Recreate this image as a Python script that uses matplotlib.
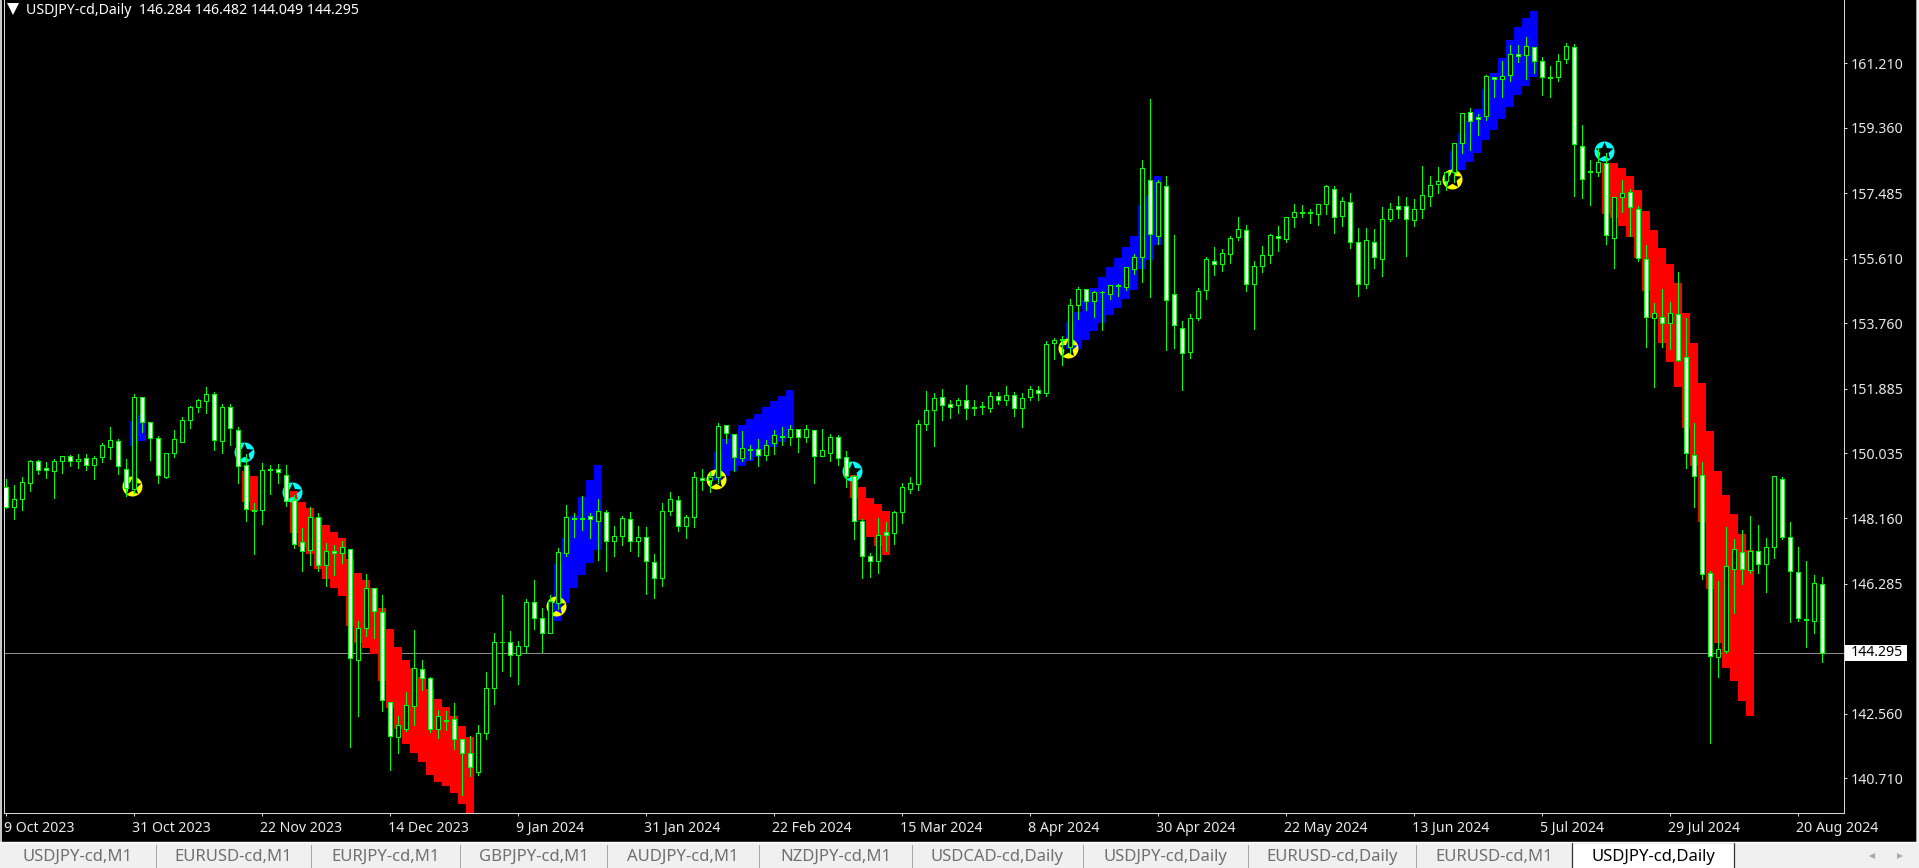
#!/usr/bin/env python3
"""USDJPY daily candles with red/blue signal bands, drawn like an MT4 window."""

import numpy as np
import matplotlib
matplotlib.use('Agg')
import matplotlib.pyplot as plt
from matplotlib.path import Path
from matplotlib.patches import Rectangle
from matplotlib.transforms import Affine2D

plt.rcParams['font.family'] = ['Noto Sans', 'DejaVu Sans']

highs = [
    149.28, 149.11, 149.35, 149.84, 149.84, 149.78, 149.86, 149.94, 149.98, 150.01,
    150.01, 149.95, 150.32, 150.78, 150.44, 149.87, 151.73, 151.63, 150.92, 150.52,
    150.05, 150.70, 151.07, 151.38, 151.58, 151.93, 151.78, 151.43, 151.43, 150.77,
    150.00, 148.59, 149.74, 149.68, 149.71, 149.68, 148.83, 147.90, 148.50, 148.33,
    147.45, 147.39, 147.50, 147.29, 145.21, 146.58, 146.18, 145.98, 142.89, 142.49,
    143.18, 144.95, 144.09, 143.61, 142.67, 142.64, 142.86, 141.83, 141.91, 142.23,
    143.75, 144.87, 145.98, 144.92, 144.64, 145.84, 146.41, 145.59, 145.96, 147.31,
    148.54, 148.31, 148.80, 148.31, 148.71, 148.39, 147.93, 148.22, 148.34, 147.93,
    147.91, 147.13, 148.59, 148.92, 148.79, 148.26, 149.48, 149.57, 149.48, 150.89,
    150.83, 150.57, 150.66, 150.28, 150.43, 150.40, 150.69, 150.77, 150.83, 150.72,
    150.83, 150.69, 150.72, 150.57, 150.54, 150.09, 149.40, 148.14, 147.16, 148.16,
    148.05, 148.37, 149.17, 149.34, 150.97, 151.81, 151.75, 151.86, 151.55, 151.61,
    151.99, 151.56, 151.49, 151.78, 151.80, 151.95, 151.78, 151.75, 151.95, 151.95,
    153.24, 153.32, 153.38, 154.44, 154.79, 154.73, 154.67, 154.67, 154.84, 154.87,
    155.36, 155.74, 158.44, 160.20, 157.85, 157.97, 156.29, 153.82, 154.02, 154.76,
    155.67, 155.93, 155.90, 156.25, 156.79, 156.56, 155.53, 155.96, 156.31, 156.54,
    156.79, 157.19, 157.14, 157.02, 157.19, 157.71, 157.68, 157.37, 157.48, 156.48,
    156.48, 156.45, 157.08, 157.20, 157.40, 157.37, 157.31, 158.26, 157.97, 158.23,
    158.11, 158.92, 159.78, 159.92, 159.75, 160.87, 160.81, 161.27, 161.73, 161.73,
    161.95, 161.67, 161.38, 161.13, 161.49, 161.78, 161.75, 159.43, 158.43, 158.77,
    158.63, 157.37, 157.85, 157.60, 157.11, 155.99, 154.33, 154.73, 154.36, 155.22,
    153.90, 150.89, 149.77, 146.64, 146.36, 147.91, 147.56, 147.82, 148.22, 147.96,
    147.59, 149.37, 149.34, 148.05, 147.33, 146.93, 146.53, 146.482,
]
lows = [
    148.45, 148.15, 148.41, 148.96, 149.43, 149.33, 148.76, 149.47, 149.65, 149.61,
    149.56, 149.30, 149.79, 149.87, 149.44, 148.79, 148.88, 150.65, 149.84, 149.19,
    149.33, 149.92, 150.34, 150.75, 151.21, 151.19, 150.13, 150.05, 150.28, 149.18,
    148.10, 147.15, 148.01, 148.87, 149.18, 148.52, 147.32, 146.66, 146.83, 146.66,
    146.23, 146.55, 146.89, 141.62, 142.51, 144.80, 144.74, 142.65, 140.95, 141.44,
    142.08, 142.24, 143.24, 142.05, 141.88, 142.09, 141.56, 140.24, 140.79, 140.81,
    141.85, 142.85, 143.80, 143.65, 143.42, 144.30, 145.00, 144.33, 144.87, 145.56,
    147.07, 147.64, 147.83, 147.61, 146.97, 146.65, 147.08, 147.40, 147.23, 147.08,
    145.99, 145.88, 146.22, 148.26, 147.80, 147.60, 147.91, 148.99, 148.92, 149.17,
    150.33, 149.51, 149.80, 149.86, 149.66, 149.83, 150.01, 150.27, 150.26, 150.07,
    150.35, 149.17, 149.96, 149.81, 149.69, 149.06, 147.56, 146.45, 146.48, 146.60,
    147.23, 147.43, 148.03, 148.89, 148.99, 150.70, 150.24, 150.98, 151.04, 151.18,
    151.01, 151.13, 151.16, 151.22, 151.44, 151.41, 151.11, 150.79, 151.56, 151.56,
    151.67, 152.74, 152.56, 152.89, 153.88, 154.14, 153.94, 153.56, 154.45, 154.54,
    154.71, 155.17, 154.94, 154.51, 156.03, 152.99, 153.05, 151.84, 152.76, 153.85,
    154.45, 155.14, 155.25, 155.48, 156.14, 154.68, 153.59, 155.23, 155.48, 155.83,
    156.09, 156.52, 156.80, 156.63, 156.57, 156.89, 156.34, 156.54, 155.91, 154.54,
    154.77, 155.34, 155.11, 156.70, 156.78, 155.69, 156.55, 156.78, 157.12, 157.49,
    157.58, 157.82, 158.64, 158.72, 159.16, 159.58, 160.24, 160.24, 160.70, 161.25,
    160.76, 160.93, 160.30, 160.24, 160.70, 161.22, 157.41, 157.35, 157.15, 157.98,
    156.03, 155.34, 156.95, 156.26, 155.53, 153.09, 151.94, 153.09, 153.01, 152.67,
    149.62, 148.50, 146.42, 141.71, 143.62, 144.29, 145.44, 146.27, 146.61, 146.59,
    146.06, 147.04, 147.56, 145.18, 145.21, 144.47, 144.87, 144.049,
]
opens = [
    149.05, 148.50, 148.71, 149.17, 149.80, 149.60, 149.51, 149.82, 149.94, 149.80,
    149.88, 149.70, 149.91, 150.20, 150.37, 149.57, 149.01, 151.63, 150.92, 150.46,
    149.36, 150.05, 150.34, 150.97, 151.35, 151.52, 151.72, 150.37, 151.35, 150.71,
    149.68, 148.40, 148.39, 149.57, 149.57, 149.42, 148.68, 147.49, 147.25, 148.21,
    146.84, 147.22, 147.16, 147.29, 144.11, 145.01, 146.16, 145.47, 142.89, 141.89,
    142.11, 142.77, 143.83, 143.58, 142.11, 142.37, 142.40, 141.83, 141.43, 140.88,
    142.00, 143.29, 144.63, 144.61, 144.24, 144.49, 145.76, 145.30, 144.89, 145.73,
    147.17, 148.16, 148.16, 148.22, 148.10, 148.34, 147.50, 147.67, 148.14, 147.50,
    147.62, 146.90, 146.44, 148.38, 148.68, 147.95, 148.19, 149.31, 149.25, 149.34,
    150.83, 150.57, 149.90, 150.15, 150.15, 149.99, 150.32, 150.53, 150.51, 150.72,
    150.51, 150.69, 149.96, 150.03, 150.51, 149.91, 149.37, 148.08, 147.07, 146.95,
    147.76, 147.75, 148.34, 149.00, 149.16, 150.86, 151.26, 151.63, 151.43, 151.41,
    151.55, 151.37, 151.38, 151.32, 151.66, 151.55, 151.69, 151.32, 151.63, 151.83,
    151.77, 153.18, 153.30, 153.07, 154.27, 154.73, 154.39, 154.66, 154.59, 154.84,
    154.81, 155.32, 155.65, 157.85, 156.25, 157.68, 154.59, 153.61, 152.92, 153.92,
    154.70, 155.53, 155.47, 155.73, 156.22, 156.42, 154.87, 155.39, 155.70, 156.25,
    156.16, 156.79, 156.94, 156.96, 156.88, 157.17, 157.62, 156.82, 157.22, 156.08,
    154.87, 156.10, 155.59, 156.76, 157.11, 157.11, 156.71, 157.02, 157.40, 157.74,
    157.83, 158.08, 158.92, 159.80, 159.66, 159.69, 160.81, 160.75, 160.88, 161.47,
    161.44, 161.67, 161.27, 160.82, 160.81, 161.32, 161.67, 158.83, 158.12, 158.08,
    158.34, 156.19, 157.37, 157.51, 157.02, 155.59, 153.90, 153.93, 153.75, 154.01,
    152.78, 149.97, 149.40, 146.59, 144.18, 144.35, 146.70, 147.19, 146.67, 147.22,
    146.85, 147.33, 149.28, 147.62, 146.62, 145.28, 145.21, 146.284,
]
closes = [
    148.50, 148.71, 149.20, 149.80, 149.56, 149.54, 149.80, 149.94, 149.80, 149.86,
    149.70, 149.88, 150.28, 150.40, 149.65, 149.04, 151.63, 150.92, 150.46, 149.40,
    150.05, 150.43, 150.97, 151.35, 151.55, 151.72, 150.40, 151.37, 150.74, 149.65,
    148.42, 148.38, 149.54, 149.55, 149.48, 148.65, 147.44, 147.22, 148.19, 146.84,
    147.22, 147.16, 147.33, 144.15, 145.01, 146.18, 145.50, 142.95, 141.91, 142.23,
    142.80, 143.86, 143.58, 142.11, 142.49, 142.35, 141.83, 141.43, 141.03, 142.00,
    143.29, 144.61, 144.61, 144.24, 144.49, 145.76, 145.30, 144.87, 145.78, 147.19,
    148.19, 148.14, 148.14, 148.14, 148.37, 147.50, 147.67, 148.16, 147.50, 147.62,
    146.95, 146.44, 148.37, 148.71, 147.93, 148.19, 149.34, 149.25, 149.34, 150.80,
    150.60, 149.93, 150.17, 150.13, 149.99, 150.28, 150.54, 150.51, 150.72, 150.51,
    150.72, 149.96, 150.11, 150.51, 149.88, 149.39, 148.08, 147.07, 146.93, 147.68,
    147.68, 148.34, 149.05, 149.17, 150.86, 151.26, 151.61, 151.41, 151.37, 151.55,
    151.32, 151.32, 151.36, 151.66, 151.57, 151.69, 151.32, 151.60, 151.86, 151.77,
    153.15, 153.27, 153.28, 154.27, 154.73, 154.39, 154.64, 154.64, 154.84, 154.82,
    155.36, 155.65, 158.20, 156.33, 157.80, 154.41, 153.70, 152.89, 153.90, 154.67,
    155.59, 155.47, 155.76, 156.19, 156.45, 154.87, 155.39, 155.70, 156.28, 156.19,
    156.79, 156.94, 156.92, 156.91, 157.19, 157.68, 156.79, 157.25, 156.08, 154.87,
    156.13, 155.65, 156.74, 157.02, 157.02, 156.74, 157.02, 157.42, 157.71, 157.83,
    158.08, 158.92, 159.78, 159.57, 159.60, 160.84, 160.75, 160.84, 161.47, 161.41,
    161.70, 161.27, 160.81, 160.80, 161.27, 161.70, 158.89, 157.89, 158.10, 158.37,
    156.28, 157.37, 157.48, 157.08, 155.62, 153.95, 154.04, 153.75, 154.04, 152.69,
    150.03, 149.37, 146.56, 144.21, 144.41, 146.79, 147.28, 146.70, 147.22, 146.85,
    147.33, 149.37, 147.62, 146.64, 145.30, 145.26, 146.30, 144.295,
]

# signal bands, one column per bar
blue_idx = (list(range(16, 18)) + list(range(69, 75)) + list(range(89, 99))
            + list(range(133, 145)) + list(range(181, 192)))
blue_tops = [
    150.95, 151.13,
    146.85, 147.60, 148.23, 148.78, 149.27, 149.69,
    150.06, 150.43, 150.57, 150.83, 151.00, 151.16, 151.35, 151.52, 151.66, 151.84,
    153.79, 154.08, 154.42, 154.76, 155.08, 155.36, 155.63, 155.93, 156.26, 157.14, 157.42, 157.98,
    158.70, 159.21, 159.57, 159.89, 160.47, 160.92, 161.36, 161.88, 162.24, 162.51, 162.71,
]
blue_bottoms = [
    150.24, 150.38,
    145.22, 145.74, 146.17, 146.54, 146.88, 147.26,
    149.27, 149.38, 149.51, 149.67, 149.81, 149.93, 150.13, 150.20, 150.34, 150.46,
    153.01, 153.01, 153.28, 153.53, 153.76, 153.99, 154.19, 154.45, 154.71, 155.31, 155.57, 156.00,
    158.15, 158.15, 158.38, 158.64, 159.01, 159.30, 159.61, 159.95, 160.30, 160.56, 160.81,
]
red_idx = (list(range(30, 32)) + list(range(36, 59)) + list(range(106, 111))
           + list(range(200, 219)))
red_tops = [
    149.52, 149.38,
    148.96, 148.63, 148.46, 148.17, 147.97, 147.77, 147.60, 147.00, 146.60, 146.39, 146.16, 145.59,
    144.99, 144.48, 144.10, 143.86, 143.61, 143.26, 142.98, 142.76, 142.50, 142.21, 141.90,
    149.40, 149.06, 148.75, 148.58, 148.37,
    158.36, 158.36, 158.21, 157.98, 157.58, 156.97, 156.43, 155.91, 155.45, 154.91, 154.05, 153.19,
    152.04, 150.67, 149.52, 148.83, 148.29, 147.71, 147.25,
]
red_bottoms = [
    148.63, 148.37,
    147.75, 147.34, 147.14, 146.71, 146.42, 146.16, 145.93, 145.07, 144.59, 144.45, 144.28, 143.50,
    142.73, 142.12, 141.69, 141.44, 141.18, 140.81, 140.61, 140.49, 140.29, 139.97, 139.50,
    148.75, 148.12, 147.63, 147.37, 147.11,
    156.89, 156.77, 156.54, 156.23, 155.63, 154.68, 153.91, 153.19, 152.65, 151.93, 150.75, 149.66,
    148.06, 146.13, 144.60, 143.87, 143.50, 142.93, 142.50,
]

# star signals
buy_idx = [16, 69, 89, 133, 181]
buy_price = [149.07, 145.63, 149.26, 153.02, 157.86]
sell_idx = [30, 36, 106, 200]
sell_price = [150.04, 148.88, 149.50, 158.67]

last_price = 144.295
price_ticks = [161.21, 159.36, 157.485, 155.61, 153.76, 151.885, 150.035, 148.16,
               146.285, 144.41, 142.56, 140.71]
date_labels = ['9 Oct 2023', '31 Oct 2023', '22 Nov 2023', '14 Dec 2023', '9 Jan 2024',
               '31 Jan 2024', '22 Feb 2024', '15 Mar 2024', '8 Apr 2024', '30 Apr 2024',
               '22 May 2024', '13 Jun 2024', '5 Jul 2024', '29 Jul 2024', '20 Aug 2024']
tab_labels = ['USDJPY-cd,M1', 'EURUSD-cd,M1', 'EURJPY-cd,M1', 'GBPJPY-cd,M1', 'AUDJPY-cd,M1',
              'NZDJPY-cd,M1', 'USDCAD-cd,Daily', 'USDJPY-cd,Daily', 'EURUSD-cd,Daily',
              'EURUSD-cd,M1', 'USDJPY-cd,Daily']
header = 'USDJPY-cd,Daily  146.284 146.482 144.049 144.295'

W, H = 1919, 868
GREEN = '#00FF00'
AXIS = '#D8D8D8'
LABEL = '#E8E8E8'

fig = plt.figure(figsize=(W / 100, H / 100), dpi=100, facecolor='black')
ax = fig.add_axes([4 / W, 1 - 813 / H, 1840 / W, 813 / H], facecolor='black')

opens = np.array(opens)
closes = np.array(closes)
x = np.arange(len(opens))

ax.axhline(last_price, color='#8C8C8C', lw=0.72, zorder=0.5, antialiased=False)

# bands sit under everything else
ax.bar(blue_idx, np.array(blue_tops) - np.array(blue_bottoms), bottom=blue_bottoms, width=1.0,
       color='#0000FF', linewidth=0, antialiased=False, zorder=1)
ax.bar(red_idx, np.array(red_tops) - np.array(red_bottoms), bottom=red_bottoms, width=1.0,
       color='#FF0000', linewidth=0, antialiased=False, zorder=1)

# ring with a star shaped hole, so the band shows through the star
circle = Path.unit_circle()
star = Path.unit_regular_star(5, 0.46)
hole = Path(star.vertices[::-1] * 0.93, closed=True)
badge = Path.make_compound_path(circle, hole)
# markers land about a pixel off the bar centre, nudge them back
nudge = ax.transData + Affine2D().translate(-1.2, 1.2)
ax.plot(buy_idx, buy_price, ls='none', marker=badge, ms=14.4, mfc='#FFFF00', mew=0,
        antialiased=False, zorder=2, transform=nudge)
ax.plot(sell_idx, sell_price, ls='none', marker=badge, ms=14.4, mfc='#00FFFF', mew=0,
        antialiased=False, zorder=2, transform=nudge)

ax.vlines(x, lows, highs, color=GREEN, lw=0.72, antialiased=False, zorder=3)

# bear bodies are white, bull bodies black
body_colors = ['white' if c < o else 'black' for o, c in zip(opens, closes)]
ax.bar(x, np.abs(opens - closes), bottom=np.minimum(opens, closes), width=0.5,
       facecolor=body_colors, edgecolor=GREEN, linewidth=0.72, antialiased=False, zorder=4)

ax.set_xlim((4 - 5.5) / 8, (1844 - 5.5) / 8)
ax.set_ylim(163.025 - 813 * 0.028671, 163.025)

ax.yaxis.tick_right()
ax.set_yticks(price_ticks)
ax.set_yticklabels([f'{p:.3f}' for p in price_ticks])
ax.set_xticks(x[::16])
ax.set_xticklabels(date_labels, ha='left')
ax.tick_params(axis='y', colors=AXIS, labelcolor=LABEL, length=2, width=0.72, pad=2.5, labelsize=10.2)
ax.tick_params(axis='x', colors=AXIS, labelcolor=LABEL, length=2, width=0.72, pad=3.5, labelsize=10.2)
for lab in ax.get_xticklabels():
    lab.set_transform(lab.get_transform() + Affine2D().translate(-1.5, 0))
for name, spine in ax.spines.items():
    spine.set_color(AXIS)
    spine.set_linewidth(0.72)
ax.spines['top'].set_visible(False)

# window chrome drawn in pixel coordinates
ui = fig.add_axes([0, 0, 1, 1], facecolor='none', zorder=5)
ui.set_xlim(0, W)
ui.set_ylim(H, 0)
ui.axis('off')

ui.add_patch(Rectangle((1916, 0), 1, 842, color='#A0A0A0', lw=0))
ui.add_patch(Rectangle((1917, 0), 2, 842, color='#F0F0F0', lw=0))
ui.add_patch(Rectangle((0, 0), 2, 842, color='#C8C8C8', lw=0))

ui.add_patch(Rectangle((1845, 645), 62, 16, color='white', lw=0))
ui.text(1851, 653, f'{last_price:.3f}', color='black', fontsize=10.2, va='center', ha='left')

ui.plot([12.5], [9], marker='v', ms=8, color='white', mew=0)
ui.text(26, 10, header, color='white', fontsize=10.2, va='center', ha='left')

# tab strip
ui.add_patch(Rectangle((0, 842), W, 26, color='#F0F0F0', lw=0))
ui.plot([0, W], [842, 842], color='#FFFFFF', lw=1)
tab_edges = [0, 155.5, 311, 460, 607, 759, 912, 1083, 1248, 1416, 1572, 1734]
for sep in tab_edges[1:10]:
    ui.plot([sep, sep], [845, 868], color='#A8A8A8', lw=0.72)
for i, label in enumerate(tab_labels):
    mid = (tab_edges[i] + tab_edges[i + 1]) / 2
    active = i == len(tab_labels) - 1
    if active:
        ui.add_patch(Rectangle((tab_edges[i], 842), tab_edges[i + 1] - tab_edges[i], 27,
                               facecolor='white', edgecolor='#303030', lw=0.9))
    ui.text(mid, 857, label, color='black' if active else '#707070', fontsize=12,
            va='center', ha='center')
ui.plot([1872], [856], marker='<', ms=5, color='#A8A8A8', mew=0)
ui.plot([1900], [856], marker='>', ms=5, color='#A8A8A8', mew=0)

fig.savefig('out.png', dpi=100, facecolor='black')
